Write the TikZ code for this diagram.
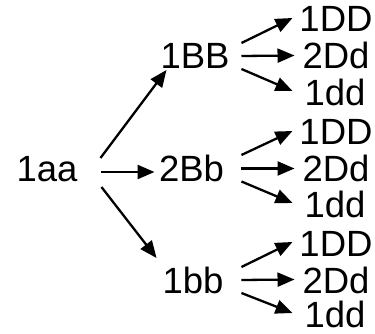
\documentclass[tikz,border=0pt]{standalone}
\usepackage{fontspec}
\setmainfont{Liberation Sans}
\usetikzlibrary{arrows.meta,calc}
\tikzset{
  lbl/.style={inner sep=0pt, outer sep=0pt, anchor=base,
    font=\fontsize{36.5}{40}\selectfont},
  arr/.style={line width=2.3pt, -{Triangle[length=17pt,width=14pt]}}
}
\begin{document}
\begin{tikzpicture}[x=1pt,y=-1pt]
\useasboundingbox (0,0) rectangle (375,334);
% parent and first generation
\node[lbl] (aa) at (47,182) {1aa};
\node[lbl] (BB) at (195,69) {1BB};
\node[lbl] (Bb) at (191.5,182) {2Bb};
\node[lbl] (bb) at (193,293) {1bb};
% second generation, three per branch
\node[lbl] (BB1) at (336,32) {1DD};
\node[lbl] (BB2) at (336,69) {2Dd};
\node[lbl] (BB3) at (335,106) {1dd};
\node[lbl] (Bb1) at (336,145) {1DD};
\node[lbl] (Bb2) at (336,182) {2Dd};
\node[lbl] (Bb3) at (335,218) {1dd};
\node[lbl] (bb1) at (336,256) {1DD};
\node[lbl] (bb2) at (336,293) {2Dd};
\node[lbl] (bb3) at (335,327) {1dd};
% arrows from 1aa
\draw[arr] ($(aa.base east)+(23,-24)$) -- ($(BB.base west)+(6,1)$);
\draw[arr] ($(aa.base east)+(24,-10)$) -- ($(Bb.base west)+(-4.5,-10)$);
\draw[arr] ($(aa.base east)+(24,5)$) -- ($(bb.base west)+(-6,-35)$);
% arrows from 1BB
\draw[arr] ($(BB.base east)+(12,-26)$) -- ($(BB1.base west)+(-7,-14)$);
\draw[arr] ($(BB.base east)+(12,-13)$) -- ($(BB2.base west)+(-8,-13.5)$);
\draw[arr] ($(BB.base east)+(12,0)$) -- ($(BB3.base west)+(-12,-15)$);
% arrows from 2Bb
\draw[arr] ($(Bb.base east)+(17.5,-27)$) -- ($(Bb1.base west)+(-7,-14)$);
\draw[arr] ($(Bb.base east)+(17.5,-13.5)$) -- ($(Bb2.base west)+(-8,-13.5)$);
\draw[arr] ($(Bb.base east)+(17.5,-0.5)$) -- ($(Bb3.base west)+(-12,-15)$);
% arrows from 1bb
\draw[arr] ($(bb.base east)+(18,-26)$) -- ($(bb1.base west)+(-7,-14)$);
\draw[arr] ($(bb.base east)+(18,-13)$) -- ($(bb2.base west)+(-8,-13.5)$);
\draw[arr] ($(bb.base east)+(18,0)$) -- ($(bb3.base west)+(-12,-14)$);
\end{tikzpicture}
\end{document}
